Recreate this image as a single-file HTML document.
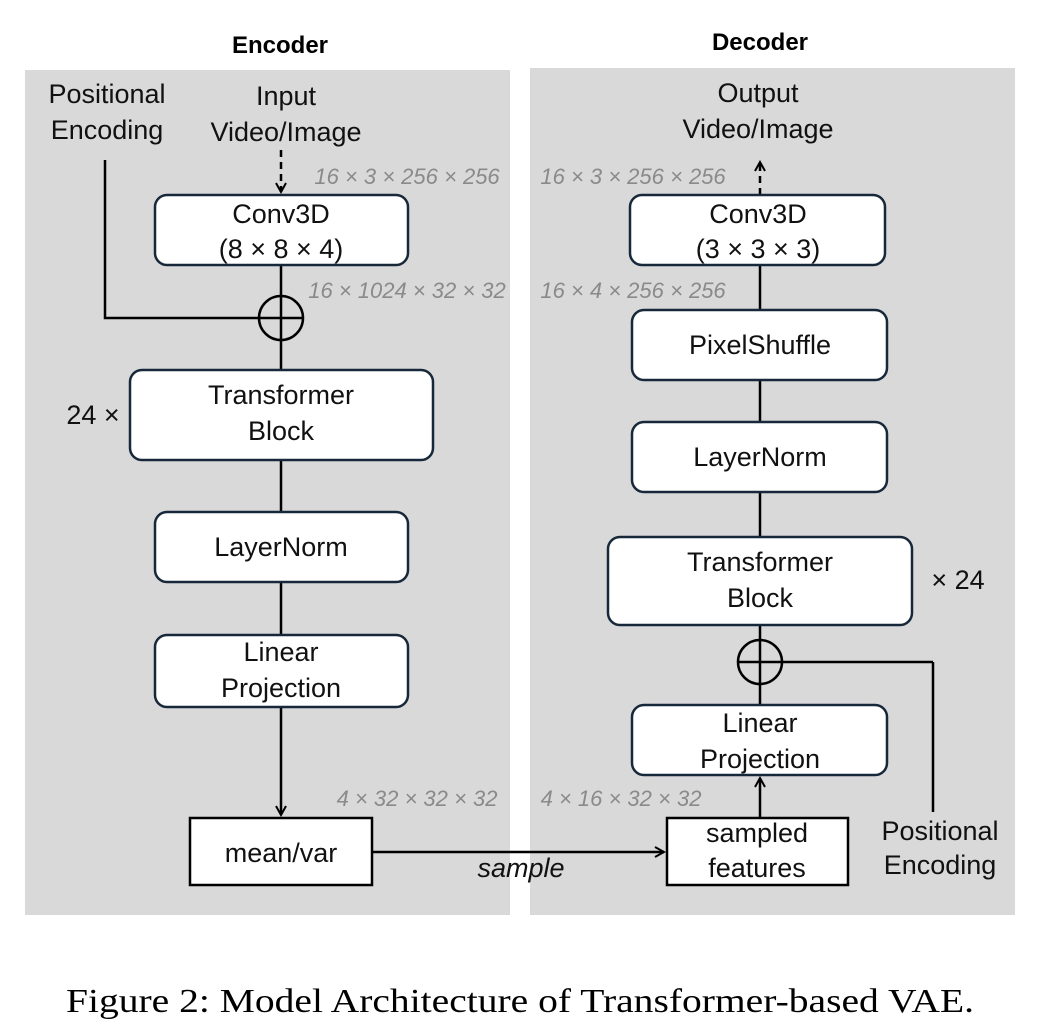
<!DOCTYPE html>
<html><head><style>
body{margin:0;width:1040px;height:1030px;background:#fff;overflow:hidden}
svg text{font-family:"Liberation Sans",sans-serif}
</style></head><body>
<svg width="1040" height="1030" viewBox="0 0 1040 1030" xmlns="http://www.w3.org/2000/svg">
<defs><marker id="a" markerWidth="12" markerHeight="12" refX="10" refY="6" orient="auto" markerUnits="userSpaceOnUse"><path d="M1,1 L10,6 L1,11" fill="none" stroke="#000" stroke-width="2"/></marker></defs>
<rect x="25" y="70" width="485" height="845" fill="#d9d9d9"/>
<rect x="530" y="68" width="485" height="847" fill="#d9d9d9"/>
<text x="280" y="53" font-size="24" font-weight="bold" text-anchor="middle">Encoder</text>
<text x="760" y="50" font-size="24" font-weight="bold" text-anchor="middle">Decoder</text>
<g stroke="#000" stroke-width="2.5" fill="none">
<line x1="281" y1="150" x2="281" y2="192" stroke-dasharray="7,5" marker-end="url(#a)"/>
<line x1="281" y1="265" x2="281" y2="370"/>
<polyline points="105,160 105,318 260,318"/>
<circle cx="281" cy="318" r="22"/><line x1="259" y1="318" x2="303" y2="318"/>
<line x1="281" y1="460" x2="281" y2="512"/>
<line x1="281" y1="582" x2="281" y2="635"/>
<line x1="281" y1="707" x2="281" y2="815" marker-end="url(#a)"/>
<line x1="372" y1="852" x2="664" y2="852" marker-end="url(#a)"/>
<line x1="760" y1="195" x2="760" y2="162" stroke-dasharray="7,5" marker-end="url(#a)"/>
<line x1="760" y1="265" x2="760" y2="310"/>
<line x1="760" y1="380" x2="760" y2="422"/>
<line x1="760" y1="492" x2="760" y2="537"/>
<line x1="760" y1="625" x2="760" y2="705"/>
<circle cx="760" cy="662" r="22"/><line x1="738" y1="662" x2="933" y2="662"/>
<line x1="933" y1="662" x2="933" y2="812"/>
<line x1="760" y1="818" x2="760" y2="778" marker-end="url(#a)"/>
</g>
<g fill="#fff" stroke="#16283a" stroke-width="2.5">
<rect x="155" y="195" width="253" height="70" rx="12"/>
<rect x="130" y="370" width="303" height="90" rx="12"/>
<rect x="155" y="512" width="253" height="70" rx="12"/>
<rect x="155" y="635" width="253" height="72" rx="12"/>
<rect x="630" y="195" width="255" height="70" rx="12"/>
<rect x="632" y="310" width="255" height="70" rx="12"/>
<rect x="632" y="422" width="255" height="70" rx="12"/>
<rect x="608" y="537" width="304" height="88" rx="12"/>
<rect x="632" y="705" width="255" height="70" rx="12"/>
</g>
<g fill="#fff" stroke="#000" stroke-width="2.5">
<rect x="190" y="818" width="182" height="67"/>
<rect x="667" y="818" width="181" height="67"/>
</g>
<g font-size="27" text-anchor="middle" fill="#111">
<text x="107" y="103">Positional</text><text x="107" y="139">Encoding</text>
<text x="286" y="105">Input</text><text x="286" y="141">Video/Image</text>
<text x="281" y="223">Conv3D</text><text x="281" y="258">(8 × 8 × 4)</text>
<text x="93" y="424">24 ×</text>
<text x="281" y="404">Transformer</text><text x="281" y="440">Block</text>
<text x="281" y="556">LayerNorm</text>
<text x="281" y="661">Linear</text><text x="281" y="697">Projection</text>
<text x="281" y="862">mean/var</text>
<text x="758" y="102">Output</text><text x="758" y="138">Video/Image</text>
<text x="758" y="223">Conv3D</text><text x="758" y="258">(3 × 3 × 3)</text>
<text x="760" y="354">PixelShuffle</text>
<text x="760" y="466">LayerNorm</text>
<text x="760" y="571">Transformer</text><text x="760" y="607">Block</text>
<text x="958" y="589">× 24</text>
<text x="760" y="732">Linear</text><text x="760" y="768">Projection</text>
<text x="757" y="842">sampled</text><text x="757" y="877">features</text>
<text x="940" y="840">Positional</text><text x="940" y="874">Encoding</text>
<text x="521" y="877" font-style="italic">sample</text>
</g>
<g font-size="22" font-style="italic" fill="#8a8a8a" text-anchor="middle">
<text x="407" y="184">16 × 3 × 256 × 256</text>
<text x="407" y="298">16 × 1024 × 32 × 32</text>
<text x="417" y="806">4 × 32 × 32 × 32</text>
<text x="633" y="184">16 × 3 × 256 × 256</text>
<text x="633" y="298">16 × 4 × 256 × 256</text>
<text x="621" y="806">4 × 16 × 32 × 32</text>
</g>
<text x="520" y="1012" font-size="34" text-anchor="middle" textLength="908" lengthAdjust="spacingAndGlyphs" style="font-family:'Liberation Serif',serif">Figure 2: Model Architecture of Transformer-based VAE.</text>
</svg>
</body></html>
